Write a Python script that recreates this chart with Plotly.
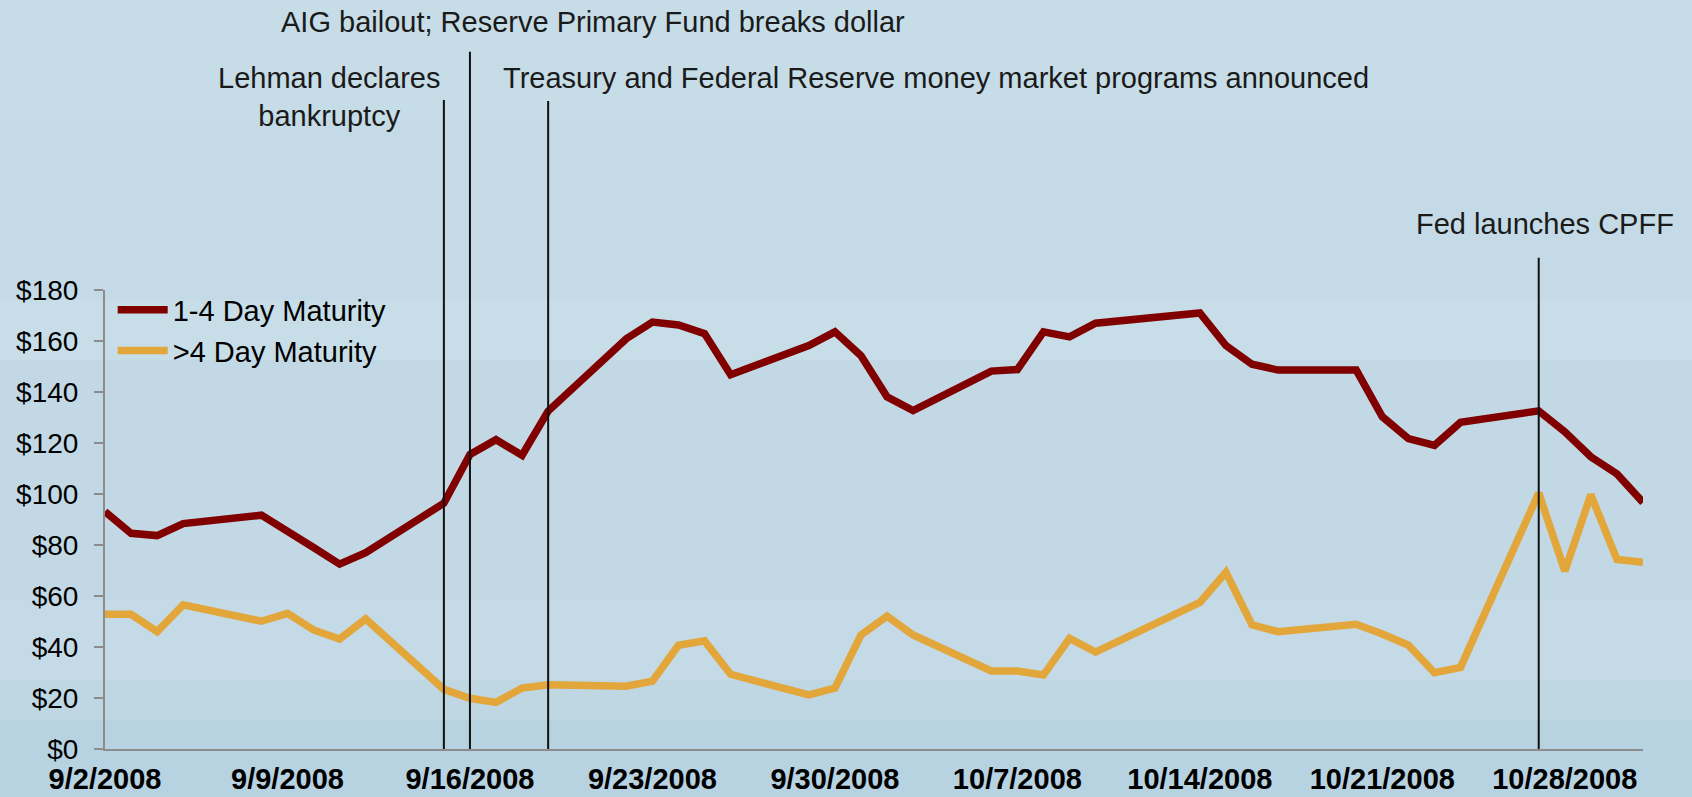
import plotly.graph_objects as go

# trading days, 9/2/2008 - 10/31/2008 (10/13 holiday has no point)
dates = ["2008-09-02", "2008-09-03", "2008-09-04", "2008-09-05",
         "2008-09-08", "2008-09-09", "2008-09-10", "2008-09-11", "2008-09-12",
         "2008-09-15", "2008-09-16", "2008-09-17", "2008-09-18", "2008-09-19",
         "2008-09-22", "2008-09-23", "2008-09-24", "2008-09-25", "2008-09-26",
         "2008-09-29", "2008-09-30", "2008-10-01", "2008-10-02", "2008-10-03",
         "2008-10-06", "2008-10-07", "2008-10-08", "2008-10-09", "2008-10-10",
         "2008-10-14", "2008-10-15", "2008-10-16", "2008-10-17",
         "2008-10-20", "2008-10-21", "2008-10-22", "2008-10-23", "2008-10-24",
         "2008-10-27", "2008-10-28", "2008-10-29", "2008-10-30", "2008-10-31"]

short_mat = [93.1, 84.6, 83.7, 88.4,
             91.7, 85.7, 79.0, 72.5, 77.0,
             96.4, 115.5, 121.3, 115.2, 132.5,
             160.9, 167.4, 166.3, 162.9, 146.8,
             158.2, 163.6, 154.2, 138.1, 132.7,
             148.2, 148.8, 163.6, 161.6, 167.0,
             171.0, 158.2, 150.9, 148.6,
             148.6, 130.3, 121.7, 119.1, 128.1,
             132.6, 124.4, 114.6, 107.9, 96.7]

long_mat = [52.8, 52.8, 46.0, 56.5,
            50.1, 53.2, 46.7, 43.1, 51.0,
            23.4, 19.9, 18.3, 23.9, 25.2,
            24.6, 26.6, 40.7, 42.4, 29.3,
            21.2, 23.9, 44.7, 52.1, 44.7,
            30.6, 30.6, 29.0, 43.4, 38.0,
            57.5, 69.3, 48.7, 46.0,
            48.9, 45.1, 40.7, 29.9, 32.0,
            100.4, 69.8, 99.7, 74.3, 73.2]

tick_dates = ["2008-09-02", "2008-09-09", "2008-09-16", "2008-09-23", "2008-09-30",
              "2008-10-07", "2008-10-14", "2008-10-21", "2008-10-28"]
tick_labels = ["9/2/2008", "9/9/2008", "9/16/2008", "9/23/2008", "9/30/2008",
               "10/7/2008", "10/14/2008", "10/21/2008", "10/28/2008"]
y_ticks = [0, 20, 40, 60, 80, 100, 120, 140, 160, 180]
y_labels = ["$0", "$20", "$40", "$60", "$80", "$100", "$120", "$140", "$160", "$180"]

event_dates = ["2008-09-15", "2008-09-16", "2008-09-19", "2008-10-27"]
event_tops = [1.414, 1.519, 1.412, 1.070]

W, H = 1692, 797
L, R, T, B = 105, 49, 290, 48
plot_h = H - T - B


def py(px):
    # pixel row -> paper y
    return (H - B - px) / plot_h


fig = go.Figure()

fig.add_trace(go.Scatter(x=dates, y=short_mat, mode="lines", name="1-4 Day Maturity",
                         line=dict(color="#800000", width=7.5)))
fig.add_trace(go.Scatter(x=dates, y=long_mat, mode="lines", name=">4 Day Maturity",
                         line=dict(color="#E2A63A", width=7.5)))

# background wash
bands = [(0, 120, "#c6dce7"), (120, 300, "#c4dae6"), (300, 360, "#c7dde8"),
         (360, 600, "#c2d9e5"), (600, 680, "#c4dae6"), (680, 720, "#bed7e3"),
         (720, 797, "#b7d2e0")]
for top, bot, col in bands:
    fig.add_shape(type="rect", xref="paper", yref="paper",
                  x0=-L / 1538 - 0.01, x1=1 + R / 1538 + 0.01,
                  y0=py(bot), y1=py(top), fillcolor=col, line_width=0, layer="below")

for d, top in zip(event_dates, event_tops):
    fig.add_shape(type="line", xref="x", yref="paper", x0=d, x1=d, y0=0, y1=top,
                  line=dict(color="#111111", width=2))

txt = dict(family="Liberation Sans, Arial, sans-serif", size=29, color="#1a1a1a")
fig.add_annotation(x="2008-09-16", xref="x", y=py(22), yref="paper", xanchor="left",
                   yanchor="middle", xshift=-191,
                   text="AIG bailout; Reserve Primary Fund breaks dollar",
                   showarrow=False, font=txt)
fig.add_annotation(x="2008-09-15", xref="x", y=py(97), yref="paper", xanchor="right",
                   yanchor="middle", xshift=-2, text="Lehman declares<br>bankruptcy",
                   align="center", showarrow=False, font=txt)
fig.add_annotation(x="2008-09-19", xref="x", y=py(78), yref="paper", xanchor="left",
                   yanchor="middle", xshift=-47,
                   text="Treasury and Federal Reserve money market programs announced",
                   showarrow=False, font=txt)
fig.add_annotation(x="2008-10-27", xref="x", y=py(224), yref="paper", xanchor="center",
                   yanchor="middle", xshift=6, text="Fed launches CPFF",
                   showarrow=False, font=txt)

fig.update_layout(
    width=W, height=H,
    margin=dict(l=L, r=R, t=T, b=B, pad=0, autoexpand=False),
    paper_bgcolor="#c4dae6", plot_bgcolor="rgba(0,0,0,0)",
    font=dict(family="Liberation Sans, Arial, sans-serif", size=28, color="#000000"),
    showlegend=True,
    legend=dict(x=0.005, y=1.012, xanchor="left", yanchor="top",
                bgcolor="rgba(0,0,0,0)", font=dict(size=29, color="#000000"),
                itemwidth=50, tracegroupgap=0),
)

fig.update_xaxes(type="date", range=["2008-09-02", "2008-10-31"], automargin=False,
                 tickvals=tick_dates, ticktext=["<b>%s</b>" % t for t in tick_labels],
                 tickfont=dict(size=29, color="#000000"), ticklabelstandoff=3,
                 showline=True, linecolor="#8c8c8c", linewidth=2,
                 ticks="", showgrid=False, zeroline=False)
fig.update_yaxes(range=[0, 180], tickvals=y_ticks, ticktext=y_labels, automargin=False,
                 tickfont=dict(size=28, color="#000000"), ticklabelstandoff=10,
                 showline=True, linecolor="#8c8c8c", linewidth=2,
                 ticks="outside", ticklen=9, tickwidth=2, tickcolor="#8c8c8c",
                 showgrid=False, zeroline=False)

fig.write_html("out.html", config={"displayModeBar": False},
               post_script="document.body.style.margin='0';document.body.style.overflow='hidden';")
